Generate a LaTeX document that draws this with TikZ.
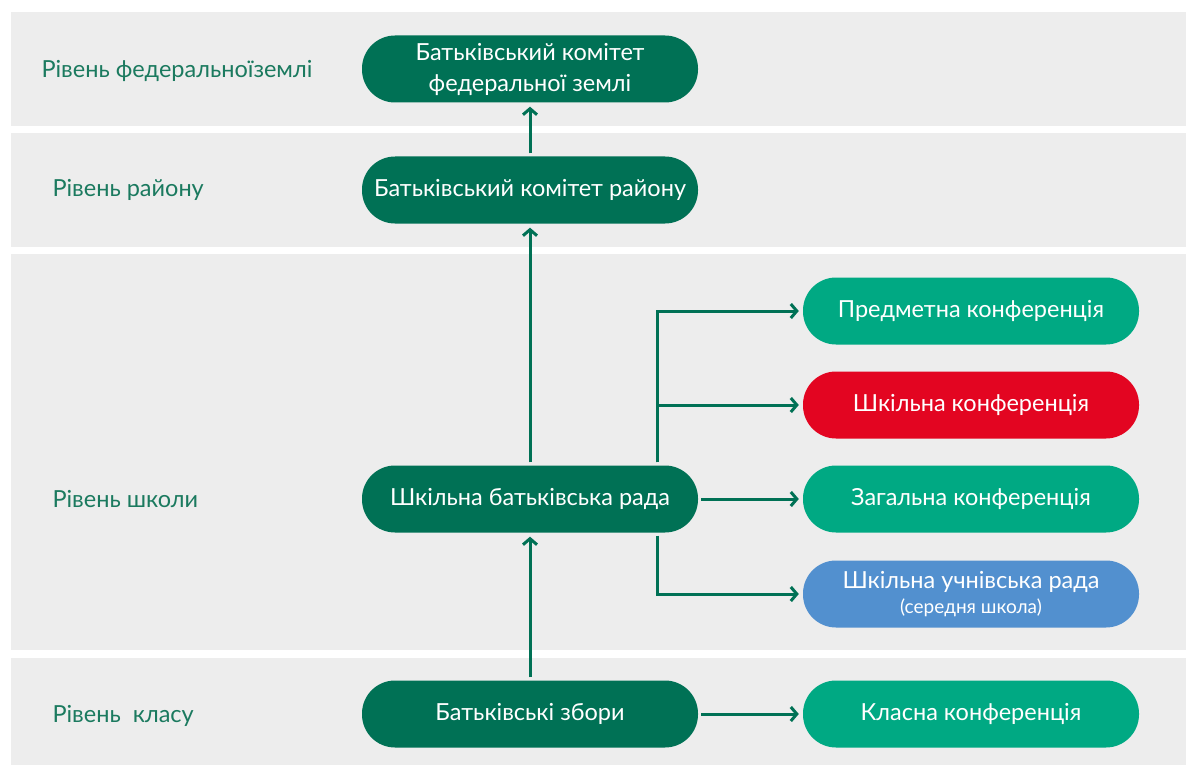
\documentclass[tikz,border=0pt]{standalone}
\usepackage{fontspec}
\setmainfont{Lato}
\usetikzlibrary{arrows.meta}
\definecolor{bandgray}{HTML}{EDEDED}
\definecolor{darkgr}{HTML}{007155}
\definecolor{lightgr}{HTML}{00A983}
\definecolor{confred}{HTML}{E30521}
\definecolor{confblue}{HTML}{5290CF}
\definecolor{lvlgr}{HTML}{1B7A5F}
\begin{document}
\begin{tikzpicture}[x=1pt,y=-1pt,
    lvl/.style={anchor=west,text=lvlgr,font=\fontsize{23.5}{27}\selectfont},
    box/.style={rounded corners=33pt,minimum width=336pt,minimum height=67pt,inner sep=0pt,
        text=white,align=center,font=\fontsize{23.5}{31}\selectfont},
    arr/.style={darkgr,line width=3pt,-{Straight Barb[length=6pt,width=14pt,line width=3pt]},
        shorten >=4pt,shorten <=3pt}]
    \useasboundingbox (0,0) rectangle (1186,765);
    % bands
    \fill[bandgray] (11,12) rectangle (1186,126);
    \fill[bandgray] (11,133) rectangle (1186,247);
    \fill[bandgray] (11,254) rectangle (1186,650);
    \fill[bandgray] (11,658) rectangle (1186,765);
    % level labels
    \node[lvl] (l1) at (38,71) {Рівень федеральноїземлі};
    \node[lvl] (l2) at (49,190) {Рівень району};
    \node[lvl] (l3) at (49,499) {Рівень школи};
    \node[lvl] (l4) at (49,716) {Рівень \ класу};
    % main column
    \node[box,fill=darkgr] (fed) at (530,69) {Батьківський комітет\\федеральної землі};
    \node[box,fill=darkgr] (raion) at (530,190) {Батьківський комітет району};
    \node[box,fill=darkgr] (rada) at (530,499) {Шкільна батьківська рада};
    \node[box,fill=darkgr] (zbory) at (530,714) {Батьківські збори};
    % conferences
    \node[box,fill=lightgr] (predm) at (971,311) {Предметна конференція};
    \node[box,fill=confred] (shkconf) at (971,405) {Шкільна конференція};
    \node[box,fill=lightgr] (zag) at (971,499) {Загальна конференція};
    \node[box,fill=confblue,font=\fontsize{23.5}{25}\selectfont] (uchn) at (971,594)
        {Шкільна учнівська рада\\{\fontsize{19}{20}\selectfont (середня школа)}};
    \node[box,fill=lightgr] (klas) at (971,714) {Класна конференція};
    % connectors
    \coordinate (br) at (657,499);
    \draw[arr] (zbory) -- (rada);
    \draw[arr] (rada) -- (raion);
    \draw[arr] (raion) -- (fed);
    \draw[arr] (br |- rada.north) |- (predm);
    \draw[arr] (br |- rada.north) |- (shkconf);
    \draw[arr] (rada) -- (zag);
    \draw[arr] (br |- rada.south) |- (uchn);
    \draw[arr] (zbory) -- (klas);
\end{tikzpicture}
\end{document}
